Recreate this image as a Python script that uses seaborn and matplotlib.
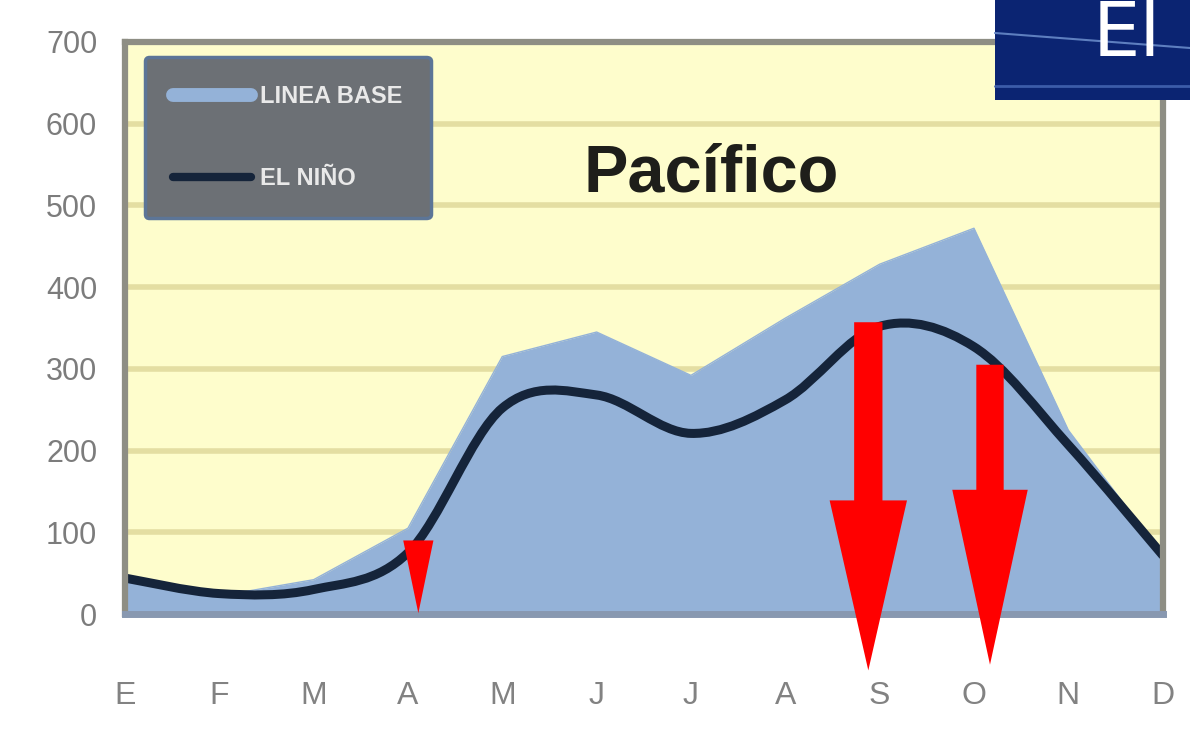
import numpy as np
import matplotlib
matplotlib.use("Agg")
import matplotlib.pyplot as plt
import seaborn as sns
from matplotlib.path import Path
from matplotlib.patches import PathPatch, FancyArrow, Rectangle
from matplotlib.lines import Line2D

# ------------------------------
# Data
# ------------------------------
months = ["E", "F", "M", "A", "M", "J", "J", "A", "S", "O", "N", "D"]
linea_base = [42, 22, 42, 105, 315, 345, 292, 362, 428, 472, 225, 72]
el_nino = [44, 25, 30, 75, 252, 268, 221, 262, 352, 327, 207, 72]

# red arrows: x position (month index), top value, tip value
arrow_x = [3.11, 7.88, 9.17]
arrow_top = [90, 357, 305]
arrow_tip = [1, -69, -62]
arrow_head_len = [89, 208, 214]
arrow_head_w = [0.32, 0.82, 0.80]
arrow_shaft_w = [0.0, 0.30, 0.29]

area_color = "#94B2D8"
line_color = "#15243A"
bg_color = "#FEFDCC"
grid_color = "#E4DEA2"
frame_color = "#8E8E84"


def smooth_path(xs, ys):
    # bezier curve through the points, like a smoothed office-chart line
    pts = np.column_stack([xs, ys]).astype(float)
    n = len(pts)
    verts = [pts[0]]
    codes = [Path.MOVETO]
    for i in range(n - 1):
        p0 = pts[max(i - 1, 0)]
        p1 = pts[i]
        p2 = pts[i + 1]
        p3 = pts[min(i + 2, n - 1)]
        c1 = p1 + (p2 - p0) / 6.0
        c2 = p2 - (p3 - p1) / 6.0
        verts += [c1, c2, p2]
        codes += [Path.CURVE4] * 3
    return Path(verts, codes)


def main():
    sns.set_theme(style="white")
    plt.rcParams["font.family"] = ["Liberation Sans", "DejaVu Sans"]

    fig = plt.figure(figsize=(11.9, 7.35), dpi=100)
    fig.patch.set_facecolor("white")
    ax = fig.add_axes([0.105, 0.1646, 0.872, 0.7784])
    ax.set_facecolor(bg_color)

    x = np.arange(len(months))

    # baseline area
    ax.fill_between(x, 0, linea_base, color=area_color, lw=0, zorder=2)
    sns.lineplot(x=x, y=linea_base, color=area_color, lw=1, ax=ax,
                 legend=False, zorder=2)

    # smoothed El Nino line
    ax.add_patch(PathPatch(smooth_path(x, el_nino), fill=False,
                           edgecolor=line_color, lw=6.5, zorder=4,
                           capstyle="round"))

    # red arrows
    for ax_x, top, tip, hl, hw, sw in zip(arrow_x, arrow_top, arrow_tip,
                                          arrow_head_len, arrow_head_w,
                                          arrow_shaft_w):
        arr = FancyArrow(ax_x, top, 0, tip - top, width=sw, head_width=hw,
                         head_length=hl, length_includes_head=True,
                         color="#FF0000", lw=0, zorder=6, clip_on=False)
        ax.add_patch(arr)

    # axes, grid, frame
    ax.set_xlim(0, 11)
    ax.set_ylim(0, 700)
    ax.set_yticks(range(0, 701, 100))
    ax.set_xticks(x)
    ax.set_xticklabels(months)
    for v in range(100, 700, 100):
        ax.axhline(v, color=grid_color, lw=4, zorder=1)

    ax.tick_params(axis="y", length=0, pad=20, labelsize=22,
                   labelcolor="#7C7C7C")
    ax.tick_params(axis="x", length=8, width=1.5, color="#DDDDDD",
                   direction="out", pad=40, labelsize=23,
                   labelcolor="#828282")
    for side in ["left", "top", "right"]:
        ax.spines[side].set_color(frame_color)
        ax.spines[side].set_linewidth(4.5)
    ax.spines["bottom"].set_color("#8898B0")
    ax.spines["bottom"].set_linewidth(5)
    for s in ax.spines.values():
        s.set_zorder(5)

    # title inside the plot
    ax.text(0.565, 538 / 700, "Pacífico", transform=ax.transAxes,
            ha="center", va="center", fontsize=48, fontweight="bold",
            color="#1E1E1A", zorder=7)

    # legend
    handles = [Line2D([0], [0], color=area_color, lw=10),
               Line2D([0], [0], color=line_color, lw=6)]
    leg = ax.legend(handles, ["LINEA BASE", "EL NIÑO"], loc="upper left",
                    bbox_to_anchor=(0.019, 0.974), borderaxespad=0,
                    handlelength=3.3, handletextpad=0.4, labelspacing=2.5,
                    borderpad=1.2, fancybox=True, framealpha=1,
                    facecolor="#6C7075", edgecolor="#5C7597",
                    prop={"weight": "bold", "size": 17})
    leg.get_frame().set_linewidth(2.5)
    leg.set_zorder(8)
    for t in leg.get_texts():
        t.set_color("#E9E9E9")

    # corner logo
    fig.add_artist(Rectangle((995 / 1190, 1 - 100 / 735), 195 / 1190,
                             100 / 735, transform=fig.transFigure,
                             facecolor="#0B2472", edgecolor="none",
                             zorder=10))
    fig.add_artist(Line2D([995 / 1190, 1.0], [1 - 33 / 735, 1 - 48 / 735],
                          transform=fig.transFigure, color="#5E7FBF",
                          lw=1.5, zorder=11))
    fig.add_artist(Line2D([995 / 1190, 1.0], [1 - 86 / 735, 1 - 86 / 735],
                          transform=fig.transFigure, color="#3C5CA8",
                          lw=2, zorder=11))
    fig.text(1093 / 1190, 1 - 36 / 735, "El", ha="left", va="center",
             fontsize=54, color="white", zorder=12,
             family=["DejaVu Sans"])

    fig.savefig("out.png", dpi=100)


if __name__ == "__main__":
    main()
